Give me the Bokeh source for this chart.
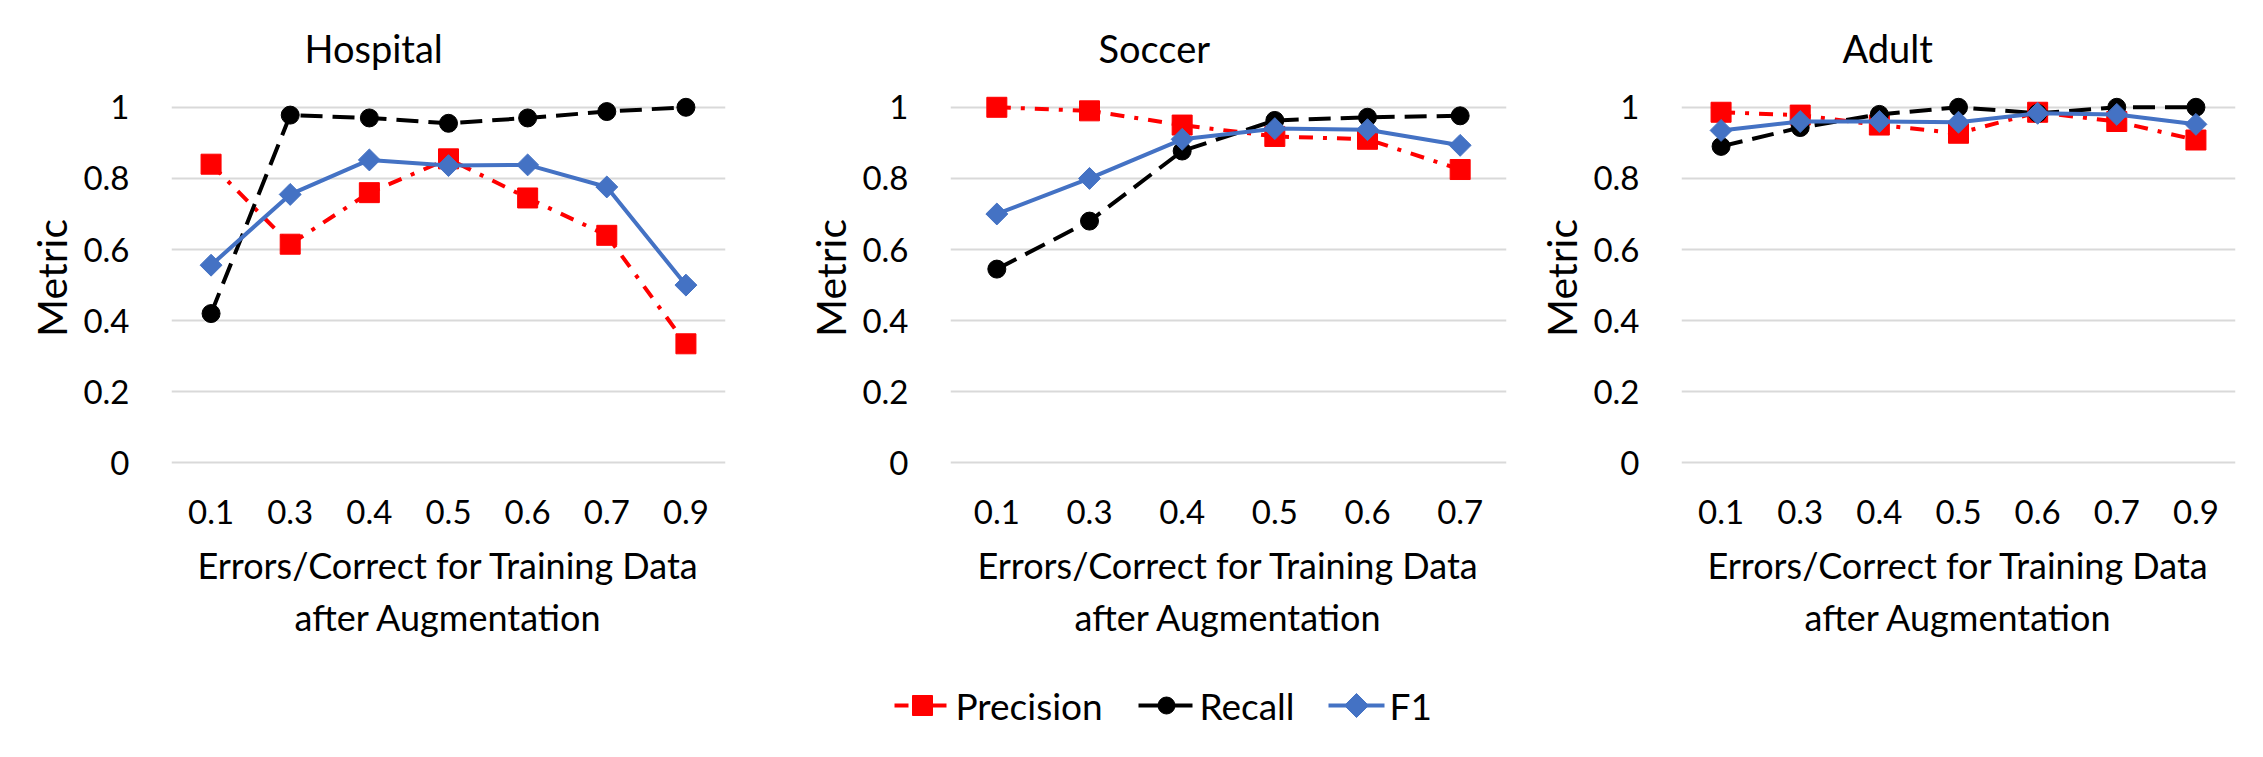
import math

from bokeh.plotting import figure
from bokeh.layouts import row, column
from bokeh.models import FactorRange, Range1d, FixedTicker, Title
from bokeh.core.properties import value
from bokeh.embed import file_html
from bokeh.resources import INLINE

# ---- data -------------------------------------------------------------
hospital_x = ["0.1", "0.3", "0.4", "0.5", "0.6", "0.7", "0.9"]
hospital_precision = [0.84, 0.615, 0.76, 0.855, 0.745, 0.64, 0.335]
hospital_recall = [0.42, 0.978, 0.97, 0.955, 0.97, 0.988, 1.0]
hospital_f1 = [0.556, 0.755, 0.852, 0.836, 0.838, 0.776, 0.50]

soccer_x = ["0.1", "0.3", "0.4", "0.5", "0.6", "0.7"]
soccer_precision = [1.0, 0.99, 0.95, 0.918, 0.91, 0.825]
soccer_recall = [0.545, 0.68, 0.877, 0.963, 0.972, 0.976]
soccer_f1 = [0.70, 0.80, 0.91, 0.94, 0.937, 0.893]

adult_x = ["0.1", "0.3", "0.4", "0.5", "0.6", "0.7", "0.9"]
adult_precision = [0.986, 0.978, 0.95, 0.927, 0.986, 0.96, 0.908]
adult_recall = [0.89, 0.943, 0.98, 1.0, 0.983, 1.0, 1.0]
adult_f1 = [0.935, 0.96, 0.96, 0.958, 0.983, 0.98, 0.952]

series_names = ["Precision", "Recall", "F1"]
y_ticks = [0, 0.2, 0.4, 0.6, 0.8, 1]
y_tick_labels = ["0", "0.2", "0.4", "0.6", "0.8", "1"]

x_title = "Errors/Correct for Training Data\nafter Augmentation"
y_title = "Metric"

# ---- styling ----------------------------------------------------------
FONT = "Lato"
colors = ["#FF0000", "#000000", "#4472C4"]
dashes = ["14 10 4 10", "22 10", "solid"]
# the F1 diamond is a square turned by 45 degrees
markers = ["square", "circle", "square"]
marker_sizes = [20, 18, 15.5]
legend_marker_sizes = [20, 17, 17]
marker_angles = [0, 0, math.pi / 4]
LINE_W = 4

PAGE_W = 2263
PAGE_H = 757
FRAME_H = 377
TOP = 89
FIG_H = 680
BOTTOM = FIG_H - TOP - FRAME_H

# legend strip layout (pixels within the strip)
LEGEND_ITEM_LEFT = [894, 1138, 1328]
LEGEND_GLYPH_W = 56
LEGEND_TEXT_GAP = 5
LEGEND_MID_Y = 52


def style_series(p, xs, values, i):
    p.line(xs, values, line_color=colors[i], line_width=LINE_W,
           line_dash=dashes[i])
    p.scatter(xs, values, marker=markers[i], size=marker_sizes[i],
              angle=marker_angles[i], fill_color=colors[i],
              line_color=colors[i])


def make_panel(title, xs, series, border_left, frame_w, border_right, title_offset):
    p = figure(
        x_range=FactorRange(factors=xs),
        y_range=Range1d(-0.01, 1.05),
        frame_width=frame_w, frame_height=FRAME_H,
        min_border_left=border_left, min_border_right=border_right,
        min_border_top=TOP, min_border_bottom=BOTTOM,
        output_backend="svg", toolbar_location=None,
        background_fill_color="white", border_fill_color="white",
        outline_line_color=None,
    )

    # panel title, centred over the whole panel rather than the frame
    p.add_layout(Title(
        text=title, align="left", offset=title_offset, standoff=38,
        text_font=FONT, text_font_size="38px", text_font_style="normal",
        text_color="black",
    ), "above")

    # axes
    for ax in (p.xaxis, p.yaxis):
        ax.axis_line_color = None
        ax.major_tick_line_color = None
        ax.minor_tick_line_color = None
        ax.major_label_text_color = "black"
        ax.axis_label_text_color = "black"
        ax.axis_label_text_font_style = "normal"

    p.xaxis.major_label_text_font = FONT
    p.xaxis.major_label_text_font_size = "33px"
    p.xaxis.major_label_standoff = 27
    p.xaxis.axis_label = x_title
    p.xaxis.axis_label_text_font = FONT
    p.xaxis.axis_label_text_font_size = "36px"
    p.xaxis.axis_label_text_line_height = 1.2
    p.xaxis.axis_label_standoff = 16

    p.yaxis.ticker = FixedTicker(ticks=y_ticks)
    p.yaxis.major_label_overrides = dict(zip(y_ticks, y_tick_labels))
    p.yaxis.major_label_text_font = FONT
    p.yaxis.major_label_text_font_size = "33px"
    p.yaxis.major_label_standoff = 36
    p.yaxis.axis_label = y_title
    p.yaxis.axis_label_text_font = FONT
    p.yaxis.axis_label_text_font_size = "41px"
    p.yaxis.axis_label_standoff = 4

    # grid
    p.xgrid.visible = False
    p.ygrid.ticker = FixedTicker(ticks=y_ticks)
    p.ygrid.grid_line_color = "#D9D9D9"
    p.ygrid.grid_line_width = 2

    for i, values in enumerate(series):
        style_series(p, xs, values, i)
    return p


p1 = make_panel("Hospital", hospital_x,
                [hospital_precision, hospital_recall, hospital_f1],
                171, 554, 35, 133)
p2 = make_panel("Soccer", soccer_x,
                [soccer_precision, soccer_recall, soccer_f1],
                190, 556, 9, 148)
p3 = make_panel("Adult", adult_x,
                [adult_precision, adult_recall, adult_f1],
                166, 554, 28, 161)

# shared legend strip under the three panels, in pixel coordinates
strip_h = PAGE_H - FIG_H
lf = figure(
    width=PAGE_W, height=strip_h, min_border=0,
    x_range=Range1d(0, PAGE_W), y_range=Range1d(0, strip_h),
    x_axis_type=None, y_axis_type=None,
    output_backend="svg", toolbar_location=None,
    background_fill_color="white", border_fill_color="white",
    outline_line_color=None,
)
lf.xgrid.visible = False
lf.ygrid.visible = False
for i, name in enumerate(series_names):
    x0 = LEGEND_ITEM_LEFT[i]
    x1 = x0 + LEGEND_GLYPH_W
    lf.line([x0, x1], [LEGEND_MID_Y, LEGEND_MID_Y], line_color=colors[i],
            line_width=LINE_W, line_dash=dashes[i])
    lf.scatter([(x0 + x1) / 2], [LEGEND_MID_Y], marker=markers[i],
               size=legend_marker_sizes[i], angle=marker_angles[i],
               fill_color=colors[i], line_color=colors[i])
    lf.text([x1 + LEGEND_TEXT_GAP], [LEGEND_MID_Y], text=[name],
            text_font=value(FONT), text_font_size="37px",
            text_color="black", text_align="left", text_baseline="middle")

layout = column(row(p1, p2, p3), lf)

open("out.html", "w").write(file_html(layout, INLINE))
